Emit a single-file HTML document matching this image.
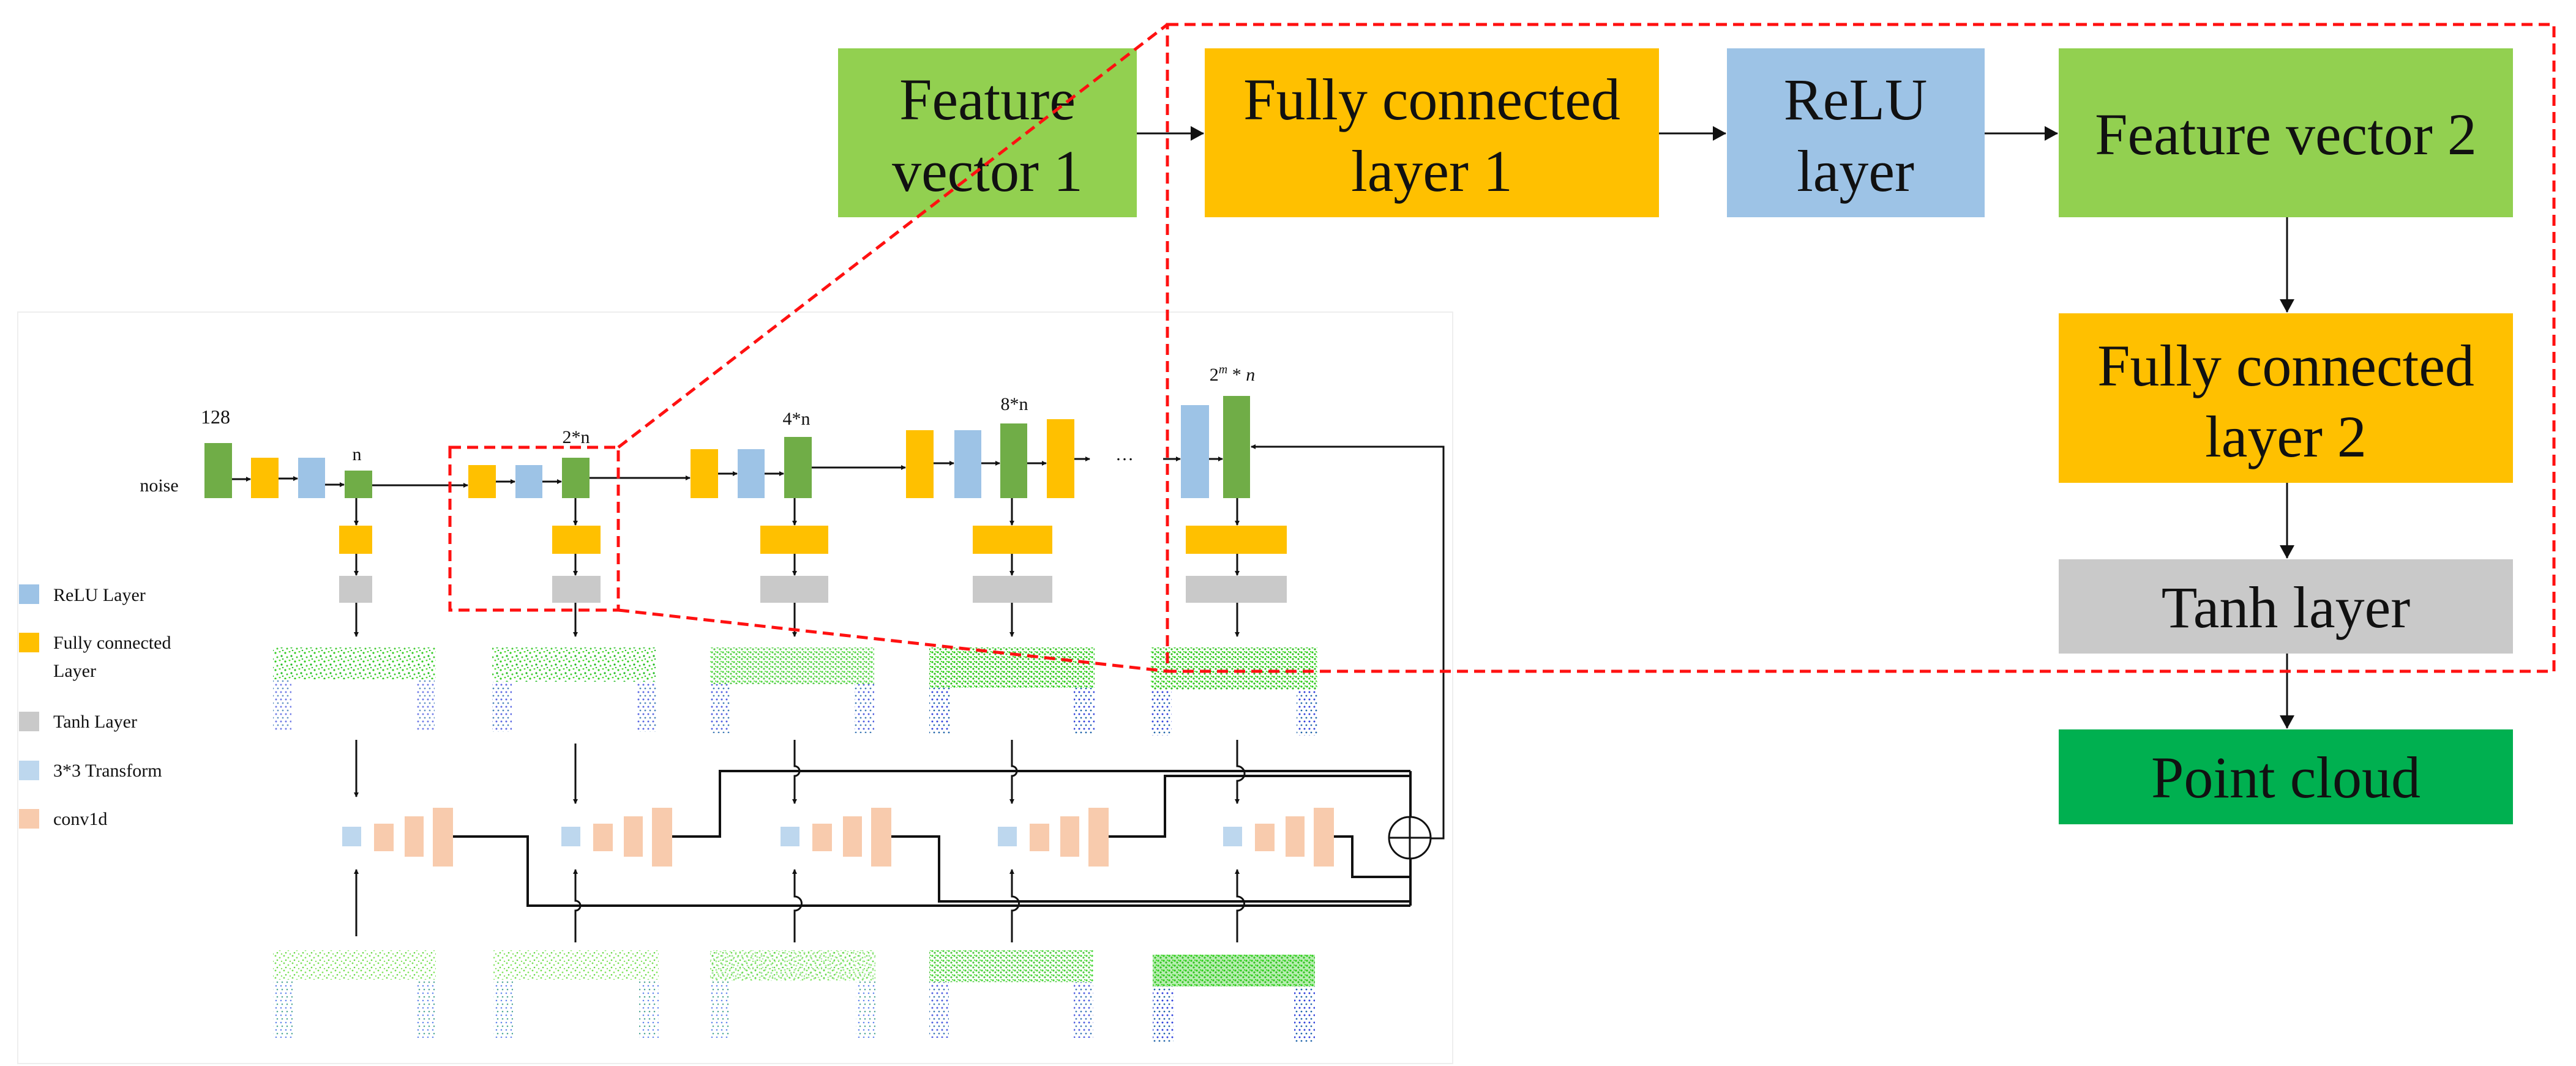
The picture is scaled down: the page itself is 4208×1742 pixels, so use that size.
<!DOCTYPE html>
<html><head><meta charset="utf-8"><style>
html,body{margin:0;padding:0;background:#fff}
svg{display:block}
text{font-family:"Liberation Serif",serif;fill:#111}
</style></head><body>
<svg width="4208" height="1742" viewBox="0 0 4208 1742" xmlns="http://www.w3.org/2000/svg">
<defs>
<marker id="ah" markerWidth="8" markerHeight="8" refX="7" refY="4" orient="auto" markerUnits="userSpaceOnUse"><path d="M0,0 L8,4 L0,8 z" fill="#111"/></marker>
<marker id="ab" markerWidth="22" markerHeight="24" refX="21" refY="12" orient="auto" markerUnits="userSpaceOnUse"><path d="M0,0 L22,12 L0,24 z" fill="#111"/></marker>
<pattern id="pg" width="16" height="14" patternUnits="userSpaceOnUse">
<circle cx="2" cy="3" r="1.6" fill="#33cc22"/><circle cx="9" cy="1" r="1.5" fill="#55dd33"/><circle cx="12" cy="8" r="1.6" fill="#22bb22"/><circle cx="5" cy="10" r="1.5" fill="#44cc33"/><circle cx="14" cy="13" r="1.3" fill="#33bb33"/>
</pattern>
<pattern id="pgd" width="9" height="8" patternUnits="userSpaceOnUse">
<circle cx="2" cy="2" r="1.6" fill="#22cc11"/><circle cx="6" cy="5" r="1.6" fill="#33bb22"/><circle cx="8" cy="1" r="1.2" fill="#44dd22"/>
</pattern>
<pattern id="pb" width="8" height="12" patternUnits="userSpaceOnUse">
<circle cx="3" cy="3" r="1.5" fill="#3344dd"/><circle cx="6" cy="9" r="1.4" fill="#2266aa"/>
</pattern>
<pattern id="pl" width="14" height="12" patternUnits="userSpaceOnUse">
<circle cx="2" cy="2" r="1.4" fill="#77e055"/><circle cx="9" cy="5" r="1.4" fill="#88e866"/><circle cx="5" cy="9" r="1.3" fill="#66d844"/><circle cx="12" cy="11" r="1.2" fill="#88e066"/>
</pattern>
<pattern id="plb" width="8" height="12" patternUnits="userSpaceOnUse">
<circle cx="3" cy="3" r="1.3" fill="#6688ee"/><circle cx="5" cy="9" r="1.3" fill="#55aa99"/>
</pattern>
</defs>

<!-- left panel border -->
<rect x="29" y="510" width="2344" height="1228" fill="none" stroke="#eeeeee" stroke-width="2"/>

<!-- Right side big boxes -->
<rect x="1369" y="79" width="488" height="276" fill="#92D050"/>
<text x="1613" y="195" font-size="96" text-anchor="middle">Feature</text>
<text x="1613" y="312" font-size="96" text-anchor="middle">vector 1</text>
<rect x="1968" y="79" width="742" height="276" fill="#FFC000"/>
<text x="2339" y="195" font-size="96" text-anchor="middle">Fully connected</text>
<text x="2339" y="312" font-size="96" text-anchor="middle">layer 1</text>
<rect x="2821" y="79" width="421" height="276" fill="#9DC3E6"/>
<text x="3031" y="195" font-size="96" text-anchor="middle">ReLU</text>
<text x="3031" y="312" font-size="96" text-anchor="middle">layer</text>
<rect x="3363" y="79" width="742" height="276" fill="#92D050"/>
<text x="3734" y="252" font-size="96" text-anchor="middle">Feature vector 2</text>
<rect x="3363" y="512" width="742" height="277" fill="#FFC000"/>
<text x="3734" y="630" font-size="96" text-anchor="middle">Fully connected</text>
<text x="3734" y="746" font-size="96" text-anchor="middle">layer 2</text>
<rect x="3363" y="914" width="742" height="154" fill="#C9C9C9"/>
<text x="3734" y="1025" font-size="96" text-anchor="middle">Tanh layer</text>
<rect x="3363" y="1192" width="742" height="155" fill="#00B050"/>
<text x="3734" y="1303" font-size="96" text-anchor="middle">Point cloud</text>
<g stroke="#111" stroke-width="3" fill="none" marker-end="url(#ab)">
<line x1="1857" y1="218" x2="1966" y2="218"/>
<line x1="2710" y1="218" x2="2819" y2="218"/>
<line x1="3242" y1="218" x2="3361" y2="218"/>
<line x1="3736" y1="355" x2="3736" y2="510"/>
<line x1="3736" y1="789" x2="3736" y2="912"/>
<line x1="3736" y1="1068" x2="3736" y2="1190"/>
</g>

<!-- Legend -->
<rect x="31" y="955" width="33" height="32" fill="#9DC3E6"/>
<text x="87" y="982" font-size="30">ReLU Layer</text>
<rect x="31" y="1034" width="33" height="32" fill="#FFC000"/>
<text x="87" y="1060" font-size="30">Fully connected</text>
<text x="87" y="1106" font-size="30">Layer</text>
<rect x="31" y="1163" width="33" height="32" fill="#C9C9C9"/>
<text x="87" y="1189" font-size="30">Tanh Layer</text>
<rect x="31" y="1243" width="33" height="32" fill="#BDD7EE"/>
<text x="87" y="1269" font-size="30">3*3 Transform</text>
<rect x="31" y="1322" width="33" height="32" fill="#F8CBAD"/>
<text x="87" y="1348" font-size="30">conv1d</text>

<!-- top chain -->
<text x="352" y="692" font-size="32" text-anchor="middle">128</text>
<text x="260" y="803" font-size="30" text-anchor="middle">noise</text>
<rect x="334" y="724" width="45" height="90" fill="#70AD47"/>
<rect x="410" y="748" width="45" height="66" fill="#FFC000"/>
<rect x="487" y="748" width="44" height="66" fill="#9DC3E6"/>
<rect x="563" y="769" width="45" height="45" fill="#70AD47"/>
<text x="583" y="752" font-size="30" text-anchor="middle">n</text>

<rect x="765" y="760" width="45" height="54" fill="#FFC000"/>
<rect x="842" y="760" width="44" height="54" fill="#9DC3E6"/>
<rect x="918" y="748" width="45" height="66" fill="#70AD47"/>
<text x="941" y="724" font-size="30" text-anchor="middle">2*n</text>

<rect x="1128" y="734" width="45" height="80" fill="#FFC000"/>
<rect x="1205" y="734" width="44" height="80" fill="#9DC3E6"/>
<rect x="1281" y="714" width="45" height="100" fill="#70AD47"/>
<text x="1301" y="694" font-size="30" text-anchor="middle">4*n</text>

<rect x="1480" y="703" width="45" height="111" fill="#FFC000"/>
<rect x="1559" y="703" width="44" height="111" fill="#9DC3E6"/>
<rect x="1634" y="692" width="44" height="122" fill="#70AD47"/>
<rect x="1710" y="685" width="45" height="129" fill="#FFC000"/>
<text x="1657" y="670" font-size="30" text-anchor="middle">8*n</text>
<text x="1837" y="752" font-size="30" text-anchor="middle">…</text>

<rect x="1929" y="662" width="46" height="152" fill="#9DC3E6"/>
<rect x="1998" y="647" width="44" height="167" fill="#70AD47"/>
<text x="2013" y="622" font-size="30" text-anchor="middle">2<tspan font-style="italic" font-size="20" dy="-12">m</tspan><tspan dy="12"> * </tspan><tspan font-style="italic">n</tspan></text>

<g stroke="#111" stroke-width="3" fill="none" marker-end="url(#ah)">
<line x1="379" y1="783" x2="409" y2="783"/>
<line x1="455" y1="782" x2="486" y2="782"/>
<line x1="531" y1="792" x2="562" y2="792"/>
<line x1="608" y1="793" x2="764" y2="793"/>
<line x1="810" y1="787" x2="841" y2="787"/>
<line x1="886" y1="787" x2="917" y2="787"/>
<line x1="963" y1="781" x2="1127" y2="781"/>
<line x1="1173" y1="774" x2="1204" y2="774"/>
<line x1="1249" y1="774" x2="1280" y2="774"/>
<line x1="1326" y1="764" x2="1479" y2="764"/>
<line x1="1525" y1="757" x2="1558" y2="757"/>
<line x1="1603" y1="757" x2="1633" y2="757"/>
<line x1="1678" y1="757" x2="1709" y2="757"/>
<line x1="1755" y1="750" x2="1780" y2="750"/>
<line x1="1900" y1="750" x2="1928" y2="750"/>
<line x1="1975" y1="750" x2="1997" y2="750"/>
<polyline points="2304,1370 2358,1370 2358,730 2044,730"/>
</g>

<!-- columns -->
<g id="cols">
<!-- col FC / tanh -->
<rect x="554" y="859" width="54" height="46" fill="#FFC000"/><rect x="554" y="941" width="54" height="44" fill="#C9C9C9"/>
<rect x="902" y="859" width="79" height="46" fill="#FFC000"/><rect x="902" y="941" width="79" height="44" fill="#C9C9C9"/>
<rect x="1242" y="859" width="111" height="46" fill="#FFC000"/><rect x="1242" y="941" width="111" height="44" fill="#C9C9C9"/>
<rect x="1589" y="859" width="130" height="46" fill="#FFC000"/><rect x="1589" y="941" width="130" height="44" fill="#C9C9C9"/>
<rect x="1937" y="859" width="165" height="46" fill="#FFC000"/><rect x="1937" y="941" width="165" height="44" fill="#C9C9C9"/>
</g>
<g stroke="#111" stroke-width="3" fill="none" marker-end="url(#ah)">
<line x1="582" y1="814" x2="582" y2="858"/><line x1="582" y1="905" x2="582" y2="940"/><line x1="582" y1="985" x2="582" y2="1040"/>
<line x1="940" y1="814" x2="940" y2="858"/><line x1="940" y1="905" x2="940" y2="940"/><line x1="940" y1="985" x2="940" y2="1040"/>
<line x1="1298" y1="814" x2="1298" y2="858"/><line x1="1298" y1="905" x2="1298" y2="940"/><line x1="1298" y1="985" x2="1298" y2="1040"/>
<line x1="1653" y1="814" x2="1653" y2="858"/><line x1="1653" y1="905" x2="1653" y2="940"/><line x1="1653" y1="985" x2="1653" y2="1040"/>
<line x1="2021" y1="814" x2="2021" y2="858"/><line x1="2021" y1="905" x2="2021" y2="940"/><line x1="2021" y1="985" x2="2021" y2="1040"/>
</g>

<!-- top point clouds -->
<g>
<rect x="446" y="1058" width="266" height="52" fill="url(#pg)"/>
<rect x="446" y="1110" width="30" height="85" fill="url(#pb)" opacity="0.7"/><rect x="680" y="1110" width="30" height="85" fill="url(#pb)" opacity="0.7"/>
<rect x="804" y="1058" width="268" height="56" fill="url(#pg)"/>
<rect x="804" y="1114" width="32" height="82" fill="url(#pb)" opacity="0.8"/><rect x="1040" y="1114" width="32" height="82" fill="url(#pb)" opacity="0.8"/>
<rect x="1160" y="1058" width="268" height="60" fill="url(#pgd)" opacity="0.8"/>
<rect x="1160" y="1118" width="32" height="80" fill="url(#pb)" opacity="0.85"/><rect x="1396" y="1118" width="32" height="80" fill="url(#pb)" opacity="0.85"/>
<rect x="1518" y="1058" width="270" height="66" fill="url(#pgd)"/>
<rect x="1518" y="1124" width="34" height="76" fill="url(#pb)"/><rect x="1754" y="1124" width="34" height="76" fill="url(#pb)"/>
<rect x="1880" y="1058" width="272" height="70" fill="url(#pgd)"/>
<rect x="1880" y="1128" width="34" height="74" fill="url(#pb)"/><rect x="2118" y="1128" width="34" height="74" fill="url(#pb)"/>
</g>
<!-- bottom point clouds -->
<g>
<rect x="446" y="1553" width="266" height="48" fill="url(#pl)"/>
<rect x="446" y="1601" width="32" height="95" fill="url(#plb)"/><rect x="680" y="1601" width="32" height="95" fill="url(#plb)"/>
<rect x="806" y="1553" width="270" height="48" fill="url(#pl)"/>
<rect x="806" y="1601" width="32" height="95" fill="url(#plb)"/><rect x="1044" y="1601" width="32" height="95" fill="url(#plb)"/>
<rect x="1160" y="1553" width="270" height="50" fill="url(#pl)"/><rect x="1160" y="1553" width="270" height="50" fill="url(#pg)" opacity="0.4"/>
<rect x="1160" y="1603" width="32" height="93" fill="url(#plb)"/><rect x="1398" y="1603" width="32" height="93" fill="url(#plb)"/>
<rect x="1518" y="1553" width="268" height="52" fill="url(#pgd)" opacity="0.85"/>
<rect x="1518" y="1605" width="32" height="91" fill="url(#pb)" opacity="0.85"/><rect x="1754" y="1605" width="32" height="91" fill="url(#pb)" opacity="0.85"/>
<rect x="1883" y="1560" width="265" height="52" fill="url(#pgd)"/><rect x="1883" y="1560" width="265" height="52" fill="#33cc22" opacity="0.35"/>
<rect x="1883" y="1612" width="34" height="92" fill="url(#pb)"/><rect x="2114" y="1612" width="34" height="92" fill="url(#pb)"/>
</g>

<!-- conv blocks -->
<g id="conv">
<rect x="559" y="1351" width="31" height="32" fill="#BDD7EE"/><rect x="611" y="1346" width="32" height="45" fill="#F8CBAD"/><rect x="661" y="1334" width="31" height="66" fill="#F8CBAD"/><rect x="707" y="1320" width="33" height="96" fill="#F8CBAD"/>
<rect x="917" y="1351" width="31" height="32" fill="#BDD7EE"/><rect x="969" y="1346" width="32" height="45" fill="#F8CBAD"/><rect x="1019" y="1334" width="31" height="66" fill="#F8CBAD"/><rect x="1065" y="1320" width="33" height="96" fill="#F8CBAD"/>
<rect x="1275" y="1351" width="31" height="32" fill="#BDD7EE"/><rect x="1327" y="1346" width="32" height="45" fill="#F8CBAD"/><rect x="1377" y="1334" width="31" height="66" fill="#F8CBAD"/><rect x="1423" y="1320" width="33" height="96" fill="#F8CBAD"/>
<rect x="1630" y="1351" width="31" height="32" fill="#BDD7EE"/><rect x="1682" y="1346" width="32" height="45" fill="#F8CBAD"/><rect x="1732" y="1334" width="31" height="66" fill="#F8CBAD"/><rect x="1778" y="1320" width="33" height="96" fill="#F8CBAD"/>
<rect x="1998" y="1351" width="31" height="32" fill="#BDD7EE"/><rect x="2050" y="1346" width="32" height="45" fill="#F8CBAD"/><rect x="2100" y="1334" width="31" height="66" fill="#F8CBAD"/><rect x="2146" y="1320" width="33" height="96" fill="#F8CBAD"/>
</g>

<!-- vertical arrows to conv -->
<g stroke="#111" stroke-width="3" fill="none" marker-end="url(#ah)">
<line x1="582" y1="1209" x2="582" y2="1302"/>
<line x1="940" y1="1215" x2="940" y2="1313"/>
<path d="M1298,1209 L1298,1252 A8,8 0 0 1 1298,1268 L1298,1313"/>
<path d="M1653,1209 L1653,1252 A8,8 0 0 1 1653,1268 L1653,1313"/>
<path d="M2021,1209 L2021,1252 A8,8 0 0 1 2021,1276 L2021,1313"/>
<line x1="582" y1="1530" x2="582" y2="1421"/>
<path d="M940,1540 L940,1488 A8,8 0 0 0 940,1472 L940,1421"/>
<path d="M1298,1540 L1298,1488 A8,8 0 0 0 1298,1465 L1298,1421"/>
<path d="M1653,1540 L1653,1488 A8,8 0 0 0 1653,1465 L1653,1421"/>
<path d="M2021,1540 L2021,1488 A8,8 0 0 0 2021,1465 L2021,1421"/>
</g>

<!-- wiring -->
<g stroke="#111" stroke-width="4" fill="none">
<polyline points="740,1367 862,1367 862,1480 2304,1480"/>
<polyline points="1098,1367 1176,1367 1176,1260 2304,1260"/>
<polyline points="1456,1367 1534,1367 1534,1473 2304,1473"/>
<polyline points="1811,1367 1903,1367 1903,1268 2304,1268"/>
<polyline points="2179,1367 2209,1367 2209,1433 2304,1433"/>
<line x1="2304" y1="1260" x2="2304" y2="1480"/>
</g>
<circle cx="2303" cy="1369" r="34" fill="#fff" stroke="#111" stroke-width="3"/>
<line x1="2269" y1="1369" x2="2337" y2="1369" stroke="#111" stroke-width="3"/>
<line x1="2303" y1="1335" x2="2303" y2="1403" stroke="#111" stroke-width="3"/>

<!-- red dashed zoom -->
<g stroke="#ff1111" stroke-width="5" fill="none" stroke-dasharray="18,10">
<rect x="735" y="731" width="275" height="266"/>
<rect x="1907" y="40" width="2265" height="1057"/>
<line x1="1010" y1="731" x2="1907" y2="40"/>
<line x1="1010" y1="997" x2="1907" y2="1097"/>
</g>
</svg>
</body></html>
